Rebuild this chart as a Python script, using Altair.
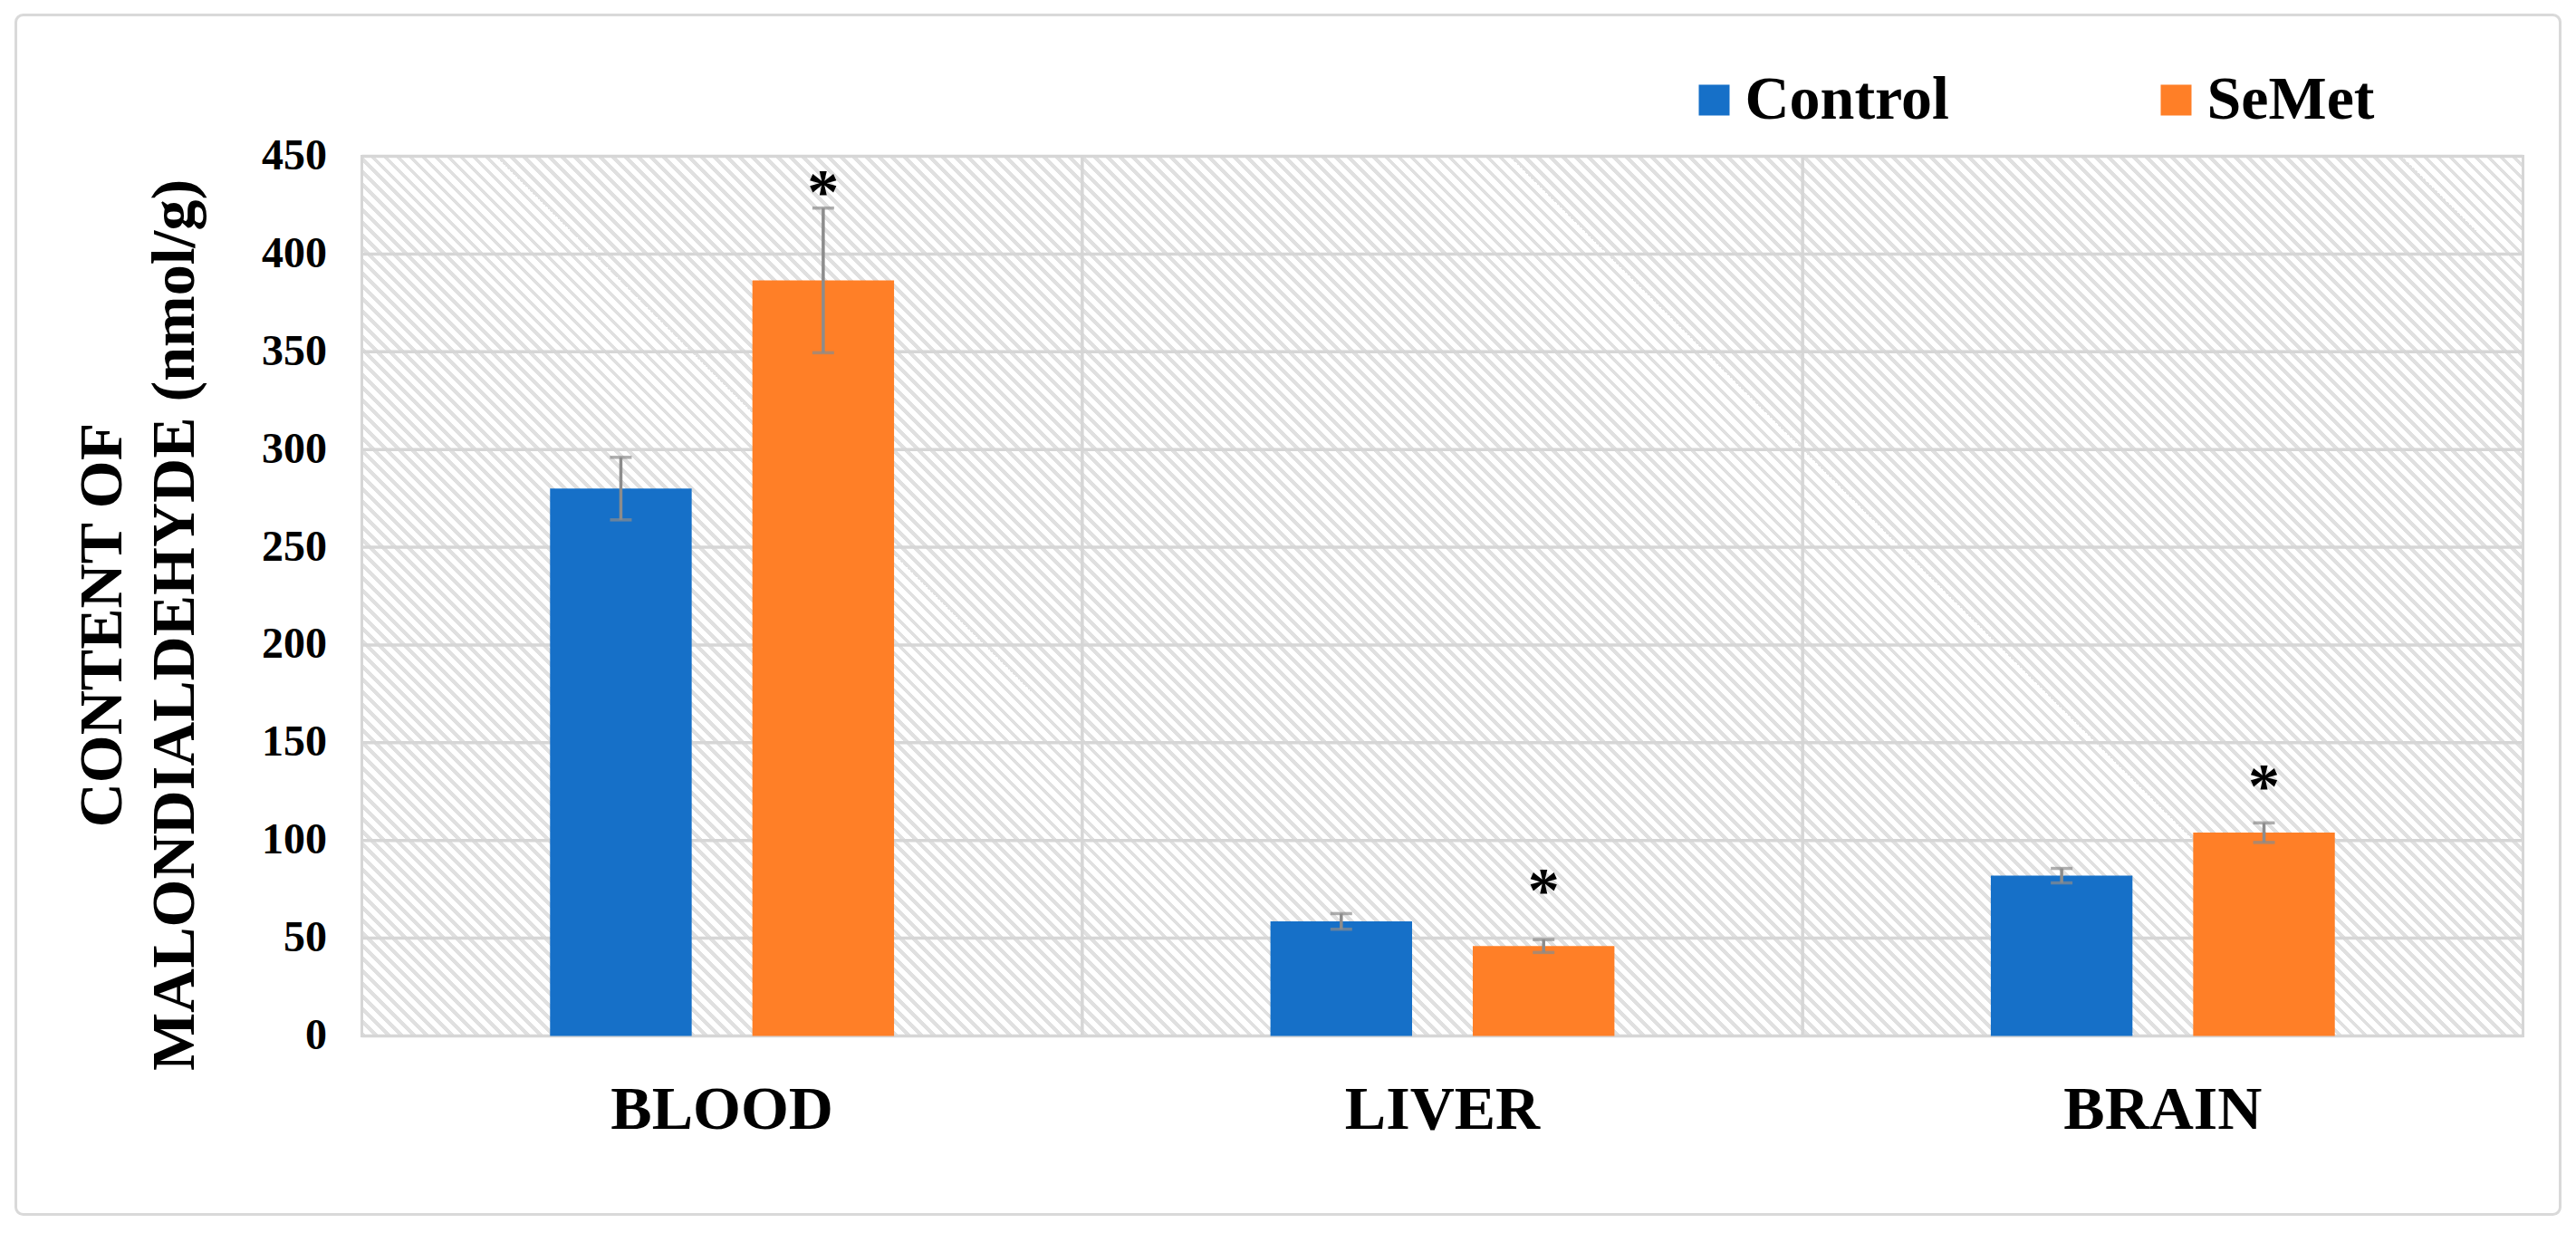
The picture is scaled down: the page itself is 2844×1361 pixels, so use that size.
import altair as alt
import pandas as pd

# ---- data ----
organs = ["BLOOD", "LIVER", "BRAIN"]
groups = ["Control", "SeMet"]
control_mean = [280, 58.6, 82]
control_err = [16, 4, 3.7]
semet_mean = [386.5, 46, 104]
semet_err = [37, 3.3, 5]
star_pos = [437, 79.5, 133]          # asterisk centres (SeMet)
y_ticks = [0, 50, 100, 150, 200, 250, 300, 350, 400, 450]

rows = []
for i, o in enumerate(organs):
    rows.append({"organ": o, "group": "Control", "value": control_mean[i],
                 "lo": control_mean[i] - control_err[i], "hi": control_mean[i] + control_err[i]})
    rows.append({"organ": o, "group": "SeMet", "value": semet_mean[i],
                 "lo": semet_mean[i] - semet_err[i], "hi": semet_mean[i] + semet_err[i]})
df = pd.DataFrame(rows)
stars = pd.DataFrame({"organ": organs, "group": ["SeMet"] * 3, "pos": star_pos, "t": ["*"] * 3})
grid_df = pd.DataFrame({"v": y_ticks})
vgrid_df = pd.DataFrame({"organ": organs[1:]})
one = pd.DataFrame({"a": [0]})

W, H = 2386, 971
FONT = "Liberation Serif"
GRID = "#d6d6d6"

# diagonal hatch as a hard-stop linear gradient (bbox units)
period_px = 9.9
n_per = int(((W + H) / 2 ** 0.5) / period_px) + 1
k = (W + H) / (W * W + H * H)
stops = []
for p in range(n_per):
    a = p / n_per
    b = (p + 0.42) / n_per
    c = (p + 1) / n_per
    stops += [alt.GradientStop(offset=a, color="#e0e0e0"),
              alt.GradientStop(offset=b, color="#e0e0e0"),
              alt.GradientStop(offset=b, color="#ffffff"),
              alt.GradientStop(offset=min(c, 1.0), color="#ffffff")]
hatch_grad = alt.Gradient(gradient="linear", stops=stops,
                          x1=0, y1=1, x2=k * W, y2=1 - k * H)

xscale = alt.Scale(domain=organs, paddingInner=0, paddingOuter=0)
xoff_scale = alt.Scale(domain=groups, paddingInner=0.30, paddingOuter=0.93)
yscale = alt.Scale(domain=[0, 450], nice=False)

X_AXIS = alt.Axis(title=None, labelAngle=0, ticks=False, domain=False, grid=False,
                  labelFont=FONT, labelFontWeight="bold", labelFontSize=68,
                  labelColor="black", labelPadding=48, labelLimit=0)
Y_AXIS = alt.Axis(values=y_ticks, ticks=False, domain=False, grid=False,
                  labelFont=FONT, labelFontWeight="bold", labelFontSize=48,
                  labelColor="black", labelPadding=39, labelLimit=0,
                  title=["CONTENT OF", "MALONDIALDEHYDE (nmol/g)"],
                  titleFont=FONT, titleFontWeight="bold", titleFontSize=68,
                  titleColor="black", titleAngle=270, titleX=-266, titleY=517,
                  titleAlign="center", titleBaseline="alphabetic", titleLineHeight=80,
                  titleLimit=0)

frame = alt.Chart(one).mark_rect(fill=None, stroke="#d9d9d9", strokeWidth=3, cornerRadius=8).encode(
    x=alt.value(17 - 399), x2=alt.value(2826 - 399),
    y=alt.value(16 - 172), y2=alt.value(1340 - 172))

hatch = alt.Chart(one).mark_rect(fill=hatch_grad, stroke=GRID, strokeWidth=3).encode(
    x=alt.value(0), x2=alt.value(W), y=alt.value(0), y2=alt.value(H))

hgrid = alt.Chart(grid_df).mark_rule(color=GRID, strokeWidth=3.5).encode(
    y=alt.Y("v:Q", scale=yscale, axis=Y_AXIS), x=alt.value(0), x2=alt.value(W))

vgrid = alt.Chart(vgrid_df).mark_rule(color=GRID, strokeWidth=3.5).encode(
    x=alt.X("organ:N", scale=xscale, sort=organs, bandPosition=0, axis=X_AXIS),
    y=alt.value(0), y2=alt.value(H))

bars = alt.Chart(df).mark_bar().encode(
    x=alt.X("organ:N", scale=xscale, sort=organs, axis=X_AXIS),
    xOffset=alt.XOffset("group:N", scale=xoff_scale, sort=groups),
    y=alt.Y("value:Q", scale=yscale, axis=Y_AXIS),
    color=alt.Color("group:N", scale=alt.Scale(domain=groups, range=["#1670C8", "#FF7F27"]),
                    legend=alt.Legend(title=None, orient="none", legendX=1459, legendY=-96,
                                      direction="horizontal", symbolType="square",
                                      symbolSize=1156, symbolStrokeWidth=0,
                                      labelFont=FONT, labelFontWeight="bold", labelFontSize=68,
                                      labelColor="black", labelOffset=0, labelLimit=0,
                                      columnPadding=216, padding=0)),
)

err_rule = alt.Chart(df).mark_rule(color="#8c8c8c", strokeWidth=3.5).encode(
    x=alt.X("organ:N", scale=xscale, sort=organs, axis=X_AXIS),
    xOffset=alt.XOffset("group:N", scale=xoff_scale, sort=groups),
    y=alt.Y("lo:Q", scale=yscale, axis=Y_AXIS), y2="hi:Q")

cap_hi = alt.Chart(df).mark_tick(color="#8c8c8c", size=24, thickness=3.5).encode(
    x=alt.X("organ:N", scale=xscale, sort=organs, axis=X_AXIS),
    xOffset=alt.XOffset("group:N", scale=xoff_scale, sort=groups),
    y=alt.Y("hi:Q", scale=yscale, axis=Y_AXIS))

cap_lo = alt.Chart(df).mark_tick(color="#8c8c8c", size=24, thickness=3.5).encode(
    x=alt.X("organ:N", scale=xscale, sort=organs, axis=X_AXIS),
    xOffset=alt.XOffset("group:N", scale=xoff_scale, sort=groups),
    y=alt.Y("lo:Q", scale=yscale, axis=Y_AXIS))

star_txt = alt.Chart(stars).mark_text(font=FONT, fontWeight="bold", fontSize=70, color="black",
                                      baseline="middle", dy=13).encode(
    x=alt.X("organ:N", scale=xscale, sort=organs, axis=X_AXIS),
    xOffset=alt.XOffset("group:N", scale=xoff_scale, sort=groups),
    y=alt.Y("pos:Q", scale=yscale, axis=Y_AXIS),
    text="t:N")

chart = alt.layer(frame, hatch, hgrid, vgrid, bars, err_rule, cap_hi, cap_lo, star_txt).properties(
    width=W, height=H,
    padding={"left": 7.5, "top": 6.5, "right": 5, "bottom": 5},
).configure_view(stroke=None).configure(background="white")

chart.save("out.html", embed_options={"renderer": "svg", "actions": False})
